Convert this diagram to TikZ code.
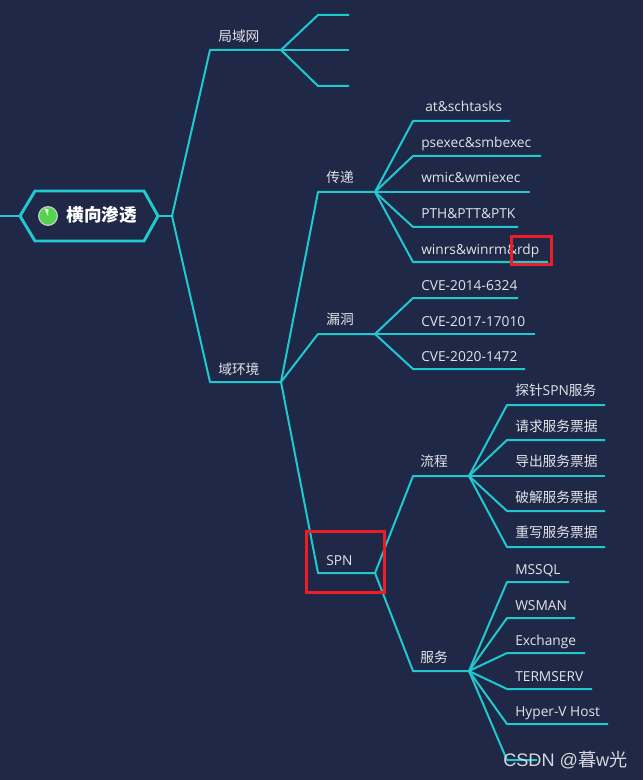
\documentclass[tikz,border=0pt]{standalone}
\usepackage{fontspec}
\setmainfont{Open Sans}
\newfontfamily\cjk{Noto Sans CJK SC}
\definecolor{bgc}{HTML}{1F2846}
\definecolor{linec}{HTML}{1FC9CF}
\definecolor{txtc}{HTML}{E2E4EA}
\definecolor{redc}{HTML}{EE1C25}
\definecolor{wmc}{HTML}{D8D8DC}
\definecolor{greenc}{HTML}{55D34F}
\tikzset{
  lnk/.style={draw=linec,line width=1.5pt,line join=round},
  lbl/.style={inner sep=0pt,anchor=base west,text=txtc,font=\fontsize{10.3pt}{12pt}\selectfont},
  zh/.style={lbl,font=\cjk\fontsize{10.3pt}{12pt}\selectfont},
  redbox/.style={draw=redc,line width=2.25pt},
}
\begin{document}
\begin{tikzpicture}[x=0.75pt,y=-0.75pt]
\useasboundingbox[fill=bgc] (0,0) rectangle (643,780);
% forks
\foreach \n/\x/\y in {root/172/216,lan/281/50,dom/281/382,chuan/375/192,ld/375/334,spn/375/573,flow/469/476,svc/469/671}{\coordinate (\n) at (\x,\y);}
% root
\coordinate (stub) at (0,216);
\coordinate (hl) at (20,216);
\coordinate (hr) at (158,216);
\draw[linec,line width=2.2pt,line join=miter] (hl)--(35,191)--(144,191)--(hr)--(144,241)--(35,241)--cycle;
\draw[lnk] (stub)--(hl);
\draw[lnk] (hr)--(root);
\draw[lnk] (root)--(210,50)--(lan);
\draw[lnk] (root)--(210,382)--(dom);
\foreach \y/\e in {15/349,50/349,86/349}{\draw[lnk] (lan)--(318,\y)--(\e,\y);}
\draw[lnk] (dom)--(318,192)--(chuan);
\draw[lnk] (dom)--(318,334)--(ld);
\draw[lnk] (dom)--(318,573)--(spn);
\foreach \y/\e in {121/510,156/541,192/530,227/518,262/548}{\draw[lnk] (chuan)--(413,\y)--(\e,\y);}
\foreach \y/\e in {298/518,334/535,369/525}{\draw[lnk] (ld)--(413,\y)--(\e,\y);}
\draw[lnk] (spn)--(413,476)--(flow);
\draw[lnk] (spn)--(413,671)--(svc);
\foreach \y/\e in {405/605,440/605,476/605,511/605,547/605}{\draw[lnk] (flow)--(507,\y)--(\e,\y);}
\foreach \y/\e in {582/569,618/575,653/585,689/592,724/608,760/537}{\draw[lnk] (svc)--(507,\y)--(\e,\y);}
% root label
\node[circle,draw=white!80!black,fill=greenc,line width=0.9pt,minimum size=14pt,inner sep=0pt] (icon) at (48,216) {};
\fill[white!90!greenc] (icon.center)--(44.5,208.5) arc[start angle=115,end angle=88,radius=8.5]--cycle;
\node[lbl,text=white,font=\cjk\bfseries\fontsize{13.2pt}{15pt}\selectfont] (t0) at (66.5,222) {横向渗透};
% labels
\node[zh] (a1) at (218,41.5) {局域网};
\node[zh] (a2) at (218,374.5) {域环境};
\node[zh] (b1) at (326,182.5) {传递};
\node[zh] (b2) at (326,324.5) {漏洞};
\node[lbl] (b3) at (326,565) {SPN};
\node[lbl] (c1) at (425,112) {at\&schtasks};
\node[lbl] (c2) at (421,148) {psexec\&smbexec};
\node[lbl] (c3) at (421,183) {wmic\&wmiexec};
\node[lbl] (c4) at (421,219) {PTH\&PTT\&PTK};
\node[lbl] (c5) at (421,255) {winrs\&winrm\&rdp};
\node[lbl] (d1) at (421,290) {CVE-2014-6324};
\node[lbl] (d2) at (421,326) {CVE-2017-17010};
\node[lbl] (d3) at (421,361) {CVE-2020-1472};
\node[zh] (e1) at (420,466.5) {流程};
\node[zh] (e2) at (420,662.5) {服务};
\node[zh] (f1) at (515,395.5) {探针\fontspec{Open Sans}SPN\cjk 服务};
\foreach \n/\y/\t in {f2/431.5/请求服务票据,f3/466.5/导出服务票据,f4/502.5/破解服务票据,f5/537.5/重写服务票据}{
  \node[zh] (\n) at (515,\y) {\t};}
\node[lbl] (g1) at (515,574) {MSSQL};
\node[lbl] (g2) at (515,610) {WSMAN};
\node[lbl] (g3) at (515,645) {Exchange};
\node[lbl] (g4) at (515,681) {TERMSERV};
\node[lbl] (g5) at (515,716) {Hyper-V Host};
% red boxes
\node[redbox,inner sep=0pt,minimum width=30pt,minimum height=20.25pt] (r1) at (531,250.5) {};
\node[redbox,inner sep=0pt,minimum width=58.5pt,minimum height=45.75pt] (r2) at (345,561.5) {};
% watermark
\node[lbl,text=wmc,font=\fontspec{Liberation Sans}\fontsize{13.6pt}{15pt}\selectfont] (w) at (503,766) {CSDN @{\cjk 暮}w{\cjk 光}};
\end{tikzpicture}
\end{document}
